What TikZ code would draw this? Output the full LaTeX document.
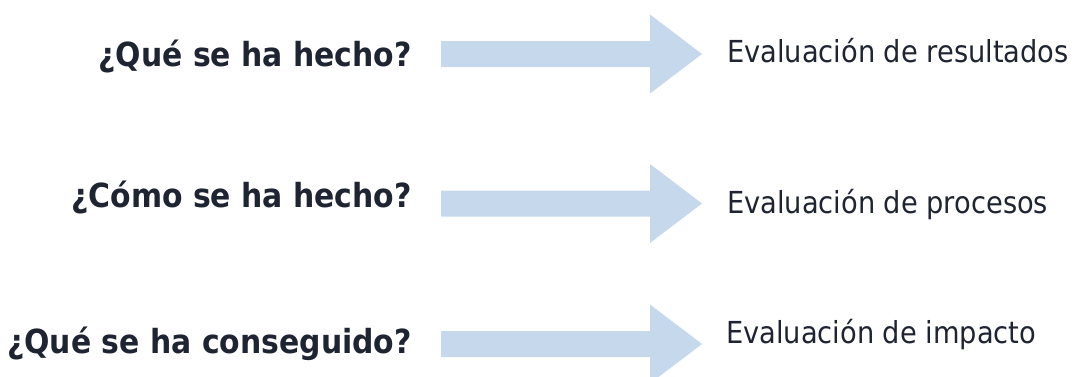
\documentclass[tikz,border=0pt]{standalone}
\usepackage{fontspec}
\setmainfont{DejaVu Sans Condensed}
\definecolor{arrowblue}{HTML}{C6D9EC}
\definecolor{textdark}{HTML}{1E2431}
\tikzset{
  x=1pt, y=1pt,
  question/.style={anchor=base east, inner sep=0pt, text=textdark, font=\fontsize{33.2}{40}\selectfont\bfseries},
  answer/.style={anchor=base west, inner sep=0pt, text=textdark, font=\fontsize{30.3}{36}\selectfont},
  barrow/.pic={\fill[arrowblue] (0,-13) -- (209,-13) -- (209,-39.5) -- (261,0) -- (209,39.5) -- (209,13) -- (0,13) -- cycle;}
}
\begin{document}
\begin{tikzpicture}
\useasboundingbox (0,0) rectangle (1083,376);
\clip (0,0) rectangle (1083,376);
\pic (a1) at (441,322) {barrow};
\pic (a2) at (441,172.5) {barrow};
\pic (a3) at (441,32) {barrow};
\node[question] (q1) at (412,310) {¿Qué se ha hecho?};
\node[answer] (r1) at (727,314) {Evaluación de resultados};
\node[question] (q2) at (412,169) {¿Cómo se ha hecho?};
\node[answer] (r2) at (727,163) {Evaluación de procesos};
\node[question] (q3) at (412,22.5) {¿Qué se ha conseguido?};
\node[answer] (r3) at (726,33) {Evaluación de impacto};
\end{tikzpicture}
\end{document}
